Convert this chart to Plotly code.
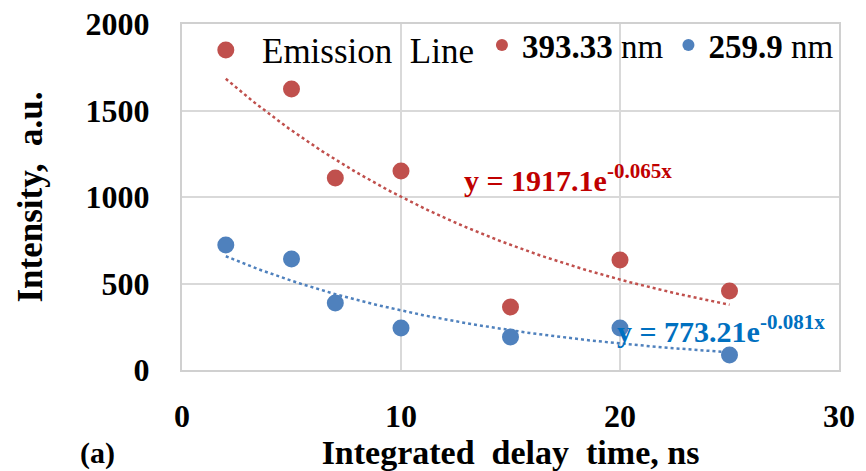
import numpy as np
import plotly.graph_objects as go

# Measured intensities vs. integrated delay time
delay_ns = [2, 5, 7, 10, 15, 20, 25]
ca_393 = [1850, 1624, 1110, 1150, 364, 636, 457]
line_259 = [722, 642, 387, 243, 191, 243, 87]

# Exponential trendline coefficients  y = A * exp(k x)
fit_393 = (1917.1, -0.065)
fit_259 = (773.21, -0.081)

x_ticks = [0, 10, 20, 30]
y_ticks = [0, 500, 1000, 1500, 2000]

RED = "#C0504D"
BLUE = "#4F81BD"
SERIF = "Times New Roman, Liberation Serif, DejaVu Serif, serif"

fig = go.Figure()

xf = np.linspace(min(delay_ns), max(delay_ns), 200)
for (a, k), col in ((fit_393, RED), (fit_259, BLUE)):
    fig.add_trace(go.Scatter(x=xf, y=a * np.exp(k * xf), mode="lines",
                             line=dict(color=col, width=2.5, dash="dot"),
                             showlegend=False, hoverinfo="skip"))

fig.add_trace(go.Scatter(x=delay_ns, y=ca_393, mode="markers",
                         marker=dict(color=RED, size=17), showlegend=False))
fig.add_trace(go.Scatter(x=delay_ns, y=line_259, mode="markers",
                         marker=dict(color=BLUE, size=17), showlegend=False))

# legend entries
fig.add_trace(go.Scatter(x=[None], y=[None], mode="markers",
                         marker=dict(color=RED, size=12),
                         name="<b>393.33</b> nm"))
fig.add_trace(go.Scatter(x=[None], y=[None], mode="markers",
                         marker=dict(color=BLUE, size=12),
                         name="<b>259.9</b> nm"))

fig.add_annotation(x=12.8, y=1110, xref="x", yref="y", xanchor="left",
                   yanchor="middle", showarrow=False,
                   text="<b>y = 1917.1e<sup>-0.065x</sup></b>",
                   font=dict(family=SERIF, size=30, color="#C00000"))
fig.add_annotation(x=19.75, y=235, xref="x", yref="y", xanchor="left",
                   yanchor="middle", showarrow=False,
                   text="<b>y = 773.21e<sup>-0.081x</sup></b>",
                   font=dict(family=SERIF, size=30, color="#0070C0"))
fig.add_annotation(x=-0.128, y=-0.24, xref="paper", yref="paper",
                   xanchor="center", yanchor="middle", showarrow=False,
                   text="<b>(a)</b>", font=dict(family=SERIF, size=30, color="black"))

axis_common = dict(showgrid=True, gridcolor="#D9D9D9", gridwidth=2,
                   showline=True, linecolor="#D0D0D0", linewidth=2, mirror=True,
                   zeroline=False, ticks="", automargin=False,
                   tickfont=dict(family=SERIF, size=32, color="black", weight="bold"))

fig.update_xaxes(range=[0, 30], tickvals=x_ticks, ticklabelstandoff=17,
                 title=dict(text="<b>Integrated  delay  time, ns</b>",
                            font=dict(family=SERIF, size=34, color="black"), standoff=8),
                 **axis_common)
fig.update_yaxes(range=[0, 2000], tickvals=y_ticks, ticklabelstandoff=24,
                 title=dict(text="<b>Intensity,  a.u.</b>",
                            font=dict(family=SERIF, size=35, color="black"), standoff=32),
                 **axis_common)

fig.update_layout(
    width=866, height=471,
    margin=dict(l=182, r=27, t=24, b=101, autoexpand=False),
    plot_bgcolor="white", paper_bgcolor="white",
    legend=dict(orientation="h", x=1.0, xanchor="right", y=1.02, yanchor="top",
                bgcolor="rgba(0,0,0,0)",
                title=dict(text="Emission  Line", side="left",
                           font=dict(family=SERIF, size=35, color="black")),
                font=dict(family=SERIF, size=33, color="black"),
                itemwidth=30, tracegroupgap=0),
)

fig.write_html("out.html")
